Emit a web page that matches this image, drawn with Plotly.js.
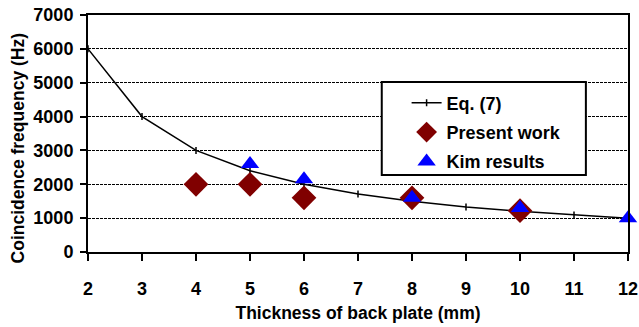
<!DOCTYPE html>
<html>
<head>
<meta charset="utf-8">
<script src="https://cdn.plot.ly/plotly-3.0.1.min.js"></script>
<style>html,body{margin:0;padding:0;background:#fff;}#chart{width:639px;height:327px;}</style>
</head>
<body>
<div id="chart"></div>
<script>
// Data
var eqThickness = [2, 3, 4, 5, 6, 7, 8, 9, 10, 11, 12];
var eqFrequency = [6000, 4000, 3000, 2400, 2000, 1710, 1500, 1330, 1200, 1090, 1000];

var presentThickness = [4, 5, 6, 8, 10];
var presentFrequency = [2000, 2000, 1600, 1600, 1220];

var kimThickness = [5, 6, 8, 10, 12];
var kimFrequency = [2600, 2150, 1600, 1300, 1000];

var seriesNames = ['Eq. (7)', 'Present work', 'Kim results'];
var xTitle = 'Thickness of back plate (mm)';
var yTitle = 'Coincidence frequency (Hz)';

var FONT = 'Liberation Sans, Arial, sans-serif';

var traces = [
  {
    x: eqThickness, y: eqFrequency, name: seriesNames[0], type: 'scatter', mode: 'lines+markers',
    line: {color: '#000000', width: 1.5},
    marker: {symbol: 'line-ns', size: 5, line: {color: '#000000', width: 1.5}},
    cliponaxis: false, legendgroup: 'a'
  },
  {
    x: presentThickness, y: presentFrequency, name: seriesNames[1], type: 'scatter', mode: 'markers',
    marker: {symbol: 'diamond', size: 19, color: '#800000'},
    cliponaxis: false, legendgroup: 'b'
  },
  {
    x: kimThickness, y: kimFrequency, name: seriesNames[2], type: 'scatter', mode: 'markers',
    marker: {symbol: 'triangle-up', size: 16, color: '#0000FF'},
    cliponaxis: false, legendgroup: 'c'
  }
];

var layout = {
  width: 639, height: 327,
  margin: {l: 88, r: 11, t: 15, b: 75},
  paper_bgcolor: '#ffffff', plot_bgcolor: '#ffffff',
  font: {family: FONT, size: 18, color: '#000000', weight: 'bold'},
  showlegend: true,
  legend: {
    x: 0.59, y: 0.707, xanchor: 'left', yanchor: 'top',
    bgcolor: 'rgba(0,0,0,0)', borderwidth: 0,
    font: {family: FONT, size: 18, color: '#000000', weight: 'bold'},
    tracegroupgap: 3
  },
  xaxis: {
    range: [2, 12], dtick: 1, tick0: 2,
    showline: true, linecolor: '#000000', linewidth: 2, mirror: true,
    ticks: 'outside', ticklen: 7, tickwidth: 2, tickcolor: '#000000',
    showgrid: false, zeroline: false,
    ticklabelstandoff: 12,
    tickfont: {family: FONT, size: 18, color: '#000000', weight: 'bold'},
    title: {text: xTitle, font: {family: FONT, size: 17.5, color: '#000000', weight: 'bold'}, standoff: 9}
  },
  yaxis: {
    range: [0, 7000], dtick: 1000, tick0: 0,
    showline: true, linecolor: '#000000', linewidth: 2, mirror: true,
    ticks: 'outside', ticklen: 6, tickwidth: 2, tickcolor: '#000000',
    showgrid: true, gridcolor: '#000000', gridwidth: 1, griddash: '3px,1px',
    zeroline: false,
    ticklabelstandoff: 3,
    tickfont: {family: FONT, size: 18, color: '#000000', weight: 'bold'}
  },
  annotations: [{
    text: yTitle, textangle: -90, showarrow: false,
    xref: 'paper', yref: 'paper', x: 0, y: 0.437, xanchor: 'center', yanchor: 'middle',
    xshift: -70,
    font: {family: FONT, size: 17.5, color: '#000000', weight: 'bold'}
  }],
  shapes: [{
    type: 'rect', xref: 'paper', yref: 'paper', layer: 'above',
    x0: 0.544, x1: 0.922, y0: 0.325, y1: 0.717,
    fillcolor: '#ffffff', line: {color: '#000000', width: 2}
  }]
};

Plotly.newPlot('chart', traces, layout, {staticPlot: true, displayModeBar: false});
</script>
</body>
</html>
